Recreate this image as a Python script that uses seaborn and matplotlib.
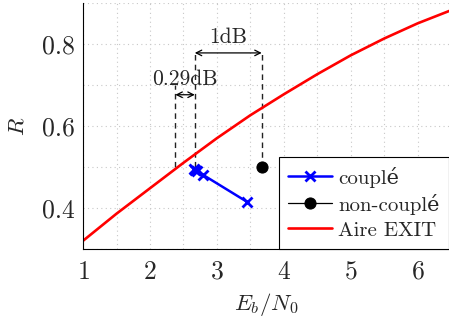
import matplotlib
matplotlib.use('Agg')
import matplotlib.pyplot as plt
import seaborn as sns
from matplotlib.ticker import MultipleLocator

# data
exit_x = [1.0, 1.5, 2.0, 2.5, 3.0, 3.5, 4.0, 4.5, 5.0, 5.5, 6.0, 6.5]
exit_r = [0.320, 0.386, 0.448, 0.510, 0.570, 0.626, 0.677, 0.726, 0.772, 0.813, 0.850, 0.882]

couple_x = [2.66, 2.68, 2.70, 2.80, 3.45]
couple_r = [0.495, 0.492, 0.490, 0.480, 0.415]

noncouple_x = [3.67]
noncouple_r = [0.50]

# dashed guides and gaps (dB)
guide_x = [2.38, 2.67, 3.67]
guide_top = [0.70, 0.78, 0.78]
gap_labels = ['0.29dB', '1dB']
gap_from = [2.38, 2.67]
gap_to = [2.67, 3.67]
gap_y = [0.676, 0.778]
label_y = [0.713, 0.815]

sns.set_style('white')
plt.rcParams['font.family'] = ['cmr10', 'DejaVu Serif']
plt.rcParams['mathtext.fontset'] = 'cm'
plt.rcParams['axes.formatter.use_mathtext'] = True

fig = plt.figure(figsize=(4.49, 3.20), dpi=100)
ax = fig.add_axes([0.185, 0.222, 0.815, 0.769])

sns.lineplot(x=couple_x, y=couple_r, color='blue', marker='x', markersize=7,
             markeredgewidth=2, markeredgecolor='blue', linewidth=1.8,
             label='couplé', ax=ax, sort=False, estimator=None)
sns.lineplot(x=noncouple_x, y=noncouple_r, color='black', marker='o', markersize=8,
             markeredgecolor='black', linewidth=0.9, label='non-couplé', ax=ax)
sns.lineplot(x=exit_x, y=exit_r, color='red', linewidth=1.9, label='Aire EXIT', ax=ax)

# dashed vertical guides
for gx, top in zip(guide_x, guide_top):
    ax.plot([gx, gx], [0.5, top], color='#222222', linestyle=(0, (4, 3)), linewidth=1.0, zorder=1)

# gap arrows
for lab, a, b, gy, ly in zip(gap_labels, gap_from, gap_to, gap_y, label_y):
    ax.annotate('', xy=(a, gy), xytext=(b, gy),
                arrowprops=dict(arrowstyle='<->', color='black', lw=0.9, shrinkA=0, shrinkB=0))
    ax.text((a + b) / 2, ly, lab, ha='center', va='center', fontsize=15.5)

ax.set_xlim(1, 6.47)
ax.set_ylim(0.3, 0.9)
ax.xaxis.set_major_locator(MultipleLocator(1))
ax.xaxis.set_minor_locator(MultipleLocator(0.5))
ax.yaxis.set_minor_locator(MultipleLocator(0.1))
ax.set_yticks([0.4, 0.6, 0.8])
ax.set_yticklabels(['0.4', '0.6', '0.8'])
ax.grid(True, which='both', color='#c8c8c8', linestyle=(0, (1, 3)), linewidth=0.8)
ax.tick_params(which='both', direction='in', length=4, width=0.6, labelsize=18.5,
               top=False, right=False)
ax.tick_params(axis='x', pad=8)
ax.tick_params(axis='y', pad=6)
for s in ['top', 'right']:
    ax.spines[s].set_visible(False)
for s in ['left', 'bottom']:
    ax.spines[s].set_linewidth(0.8)
    ax.spines[s].set_color('black')

ax.set_xlabel(r'$E_b/N_0$', fontsize=16.5, labelpad=5)
ax.set_ylabel(r'$R$', fontsize=16.5, labelpad=10)

leg = ax.legend(loc='lower right', fontsize=15, frameon=True, fancybox=False,
                edgecolor='black', framealpha=1, borderpad=0.45, handlelength=2.1,
                handletextpad=0.3, labelspacing=0.3, borderaxespad=0.0)
leg.get_frame().set_linewidth(0.8)

fig.savefig('out.png', dpi=100)
